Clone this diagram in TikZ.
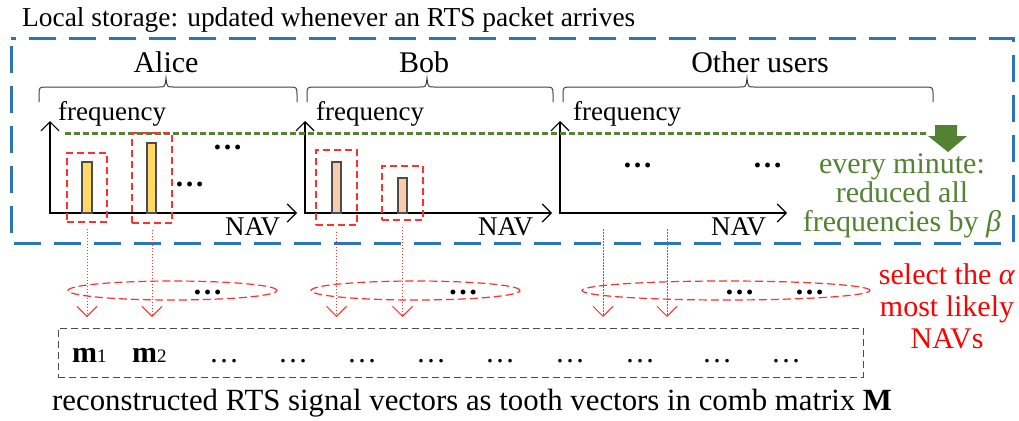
\documentclass[tikz,border=0pt]{standalone}
\usepackage{fontspec}
\setmainfont{Liberation Serif}
\usetikzlibrary{arrows.meta,shapes.geometric}
\definecolor{bluebox}{HTML}{2E75B6}
\definecolor{greenish}{HTML}{548235}
\definecolor{baryellow}{HTML}{FFD966}
\definecolor{barpeach}{HTML}{F8CBAD}
\definecolor{redline}{HTML}{FF3030}
\definecolor{redtext}{HTML}{FF0000}
\newcommand\mybrace[3]{%
  \draw[bracestyle] (#1,102) -- (#1,95) .. controls (#1,87) .. (#1+9,87)
    -- (#2-7,87) .. controls (#2-1,87) .. (#2,78)
    .. controls (#2+1,87) .. (#2+7,87) -- (#3-9,87)
    .. controls (#3,87) .. (#3,95) -- (#3,102);}
\begin{document}
\begin{tikzpicture}[x=1pt,y=-1pt,
  txt/.style={inner sep=0pt, font=\fontsize{27}{32}\selectfont},
  nametxt/.style={inner sep=0pt, font=\fontsize{30}{32}\selectfont},
  bigtxt/.style={inner sep=0pt, font=\fontsize{30}{32}\selectfont},
  bdots/.style={inner sep=0pt, font=\fontsize{30}{32}\selectfont\bfseries},
  axisline/.style={line width=1.2pt,
    {Straight Barb[length=9pt,width=18pt,line width=1.2pt]}-{Straight Barb[length=9pt,width=18pt,line width=1.2pt]}},
  bracestyle/.style={line width=1pt, draw=black!75},
  bar/.style={draw=black!70, line width=1.3pt},
  redbox/.style={draw=redline, line width=1.2pt, dash pattern=on 7pt off 4pt, inner sep=0pt},
  redell/.style={ellipse, draw=redline, line width=1.2pt, dash pattern=on 8pt off 4pt, inner sep=0pt},
  selarrow/.style={draw=redline, line width=1pt, dash pattern=on 1.5pt off 1.5pt,
    -{Straight Barb[length=10pt,width=20pt,line width=1pt]}, shorten <=6pt},
]
\useasboundingbox (0,0) rectangle (1019,420);

% title
\node[txt, anchor=base west, font=\fontsize{27.4}{32}\selectfont] (title) at (22,27) {Local storage: updated whenever an RTS packet arrives};

% blue storage box
\draw[bluebox, line width=3pt, dash pattern=on 27pt off 13pt, dash phase=33pt] (11,39) rectangle (1013,243);

% names and braces
\node[nametxt, anchor=base] (alice) at (166,72) {Alice};
\node[nametxt, anchor=base] (bob) at (424,72) {Bob};
\node[nametxt, anchor=base] (others) at (760,72) {Other users};
\mybrace{39}{166}{297}
\mybrace{307}{427}{553}
\mybrace{563}{747}{933}

% axes
\coordinate (ay1) at (50,121); \coordinate (ax1) at (297,213);
\coordinate (ay2) at (305,121); \coordinate (ax2) at (552,213);
\coordinate (ay3) at (560,121); \coordinate (ax3) at (787,213);
\draw[axisline] (ay1) |- (ax1);
\draw[axisline] (ay2) |- (ax2);
\draw[axisline] (ay3) |- (ax3);
\node[txt, anchor=base west] (f1) at (58,120) {frequency};
\node[txt, anchor=base west] (f2) at (316,120) {frequency};
\node[txt, anchor=base west] (f3) at (573,120) {frequency};
\node[txt, anchor=base west] (n1) at (225,235) {NAV};
\node[txt, anchor=base west] (n2) at (478,235) {NAV};
\node[txt, anchor=base west] (n3) at (711,235) {NAV};

% green threshold line and arrow
\draw[greenish, line width=3pt, dash pattern=on 6pt off 3pt] (65,133) -- (928,133);
\fill[greenish] (935,125) -- (957,125) -- (957,136) -- (967,136) -- (948,152) -- (928,136) -- (935,136) -- cycle;
\node[bigtxt, text=greenish, align=center, anchor=base, font=\fontsize{30}{29}\selectfont] (green) at (902,231)
  {every minute:\\reduced all\\frequencies by \textit{β}};

% bars
\draw[bar, fill=baryellow] (82,162) rectangle (92,213);
\draw[bar, fill=baryellow] (147,143) rectangle (156,213);
\draw[bar, fill=barpeach] (332,162) rectangle (341,213);
\draw[bar, fill=barpeach] (398,178) rectangle (407,213);

% red selection boxes
\node[redbox, minimum width=40pt, minimum height=69pt] (ab1) at (87,187.5) {};
\node[redbox, minimum width=40pt, minimum height=90pt] (ab2) at (152,178) {};
\node[redbox, minimum width=41pt, minimum height=75pt] (bb1) at (336.5,187.5) {};
\node[redbox, minimum width=41pt, minimum height=54pt] (bb2) at (402.5,193) {};

% dots in charts
\node[bdots, anchor=base] (d1) at (227.5,149) {…};
\node[bdots, anchor=base] (d2) at (189.5,186) {…};
\node[bdots, anchor=base] (d3) at (637.5,167) {…};
\node[bdots, anchor=base] (d4) at (767.5,167) {…};

% ellipses
\node[redell, minimum width=209pt, minimum height=19pt] (el1) at (172.5,290.5) {};
\node[redell, minimum width=209pt, minimum height=19pt] (el2) at (415.5,290.5) {};
\node[redell, minimum width=288pt, minimum height=19pt] (el3) at (726,290.5) {};
\node[bdots, anchor=base] (d5) at (207.5,294) {…};
\node[bdots, anchor=base] (d6) at (463,294) {…};
\node[bdots, anchor=base] (d7) at (739.5,294) {…};
\node[bdots, anchor=base] (d8) at (809.5,294) {…};

% selection arrows
\coordinate (bot) at (0,317);
\coordinate (o1) at (603,223);
\coordinate (o2) at (667,223);
\draw[selarrow] (ab1.south) -- (ab1.south |- bot);
\draw[selarrow] (ab2.south) -- (ab2.south |- bot);
\draw[selarrow] (bb1.south) -- (bb1.south |- bot);
\draw[selarrow] (bb2.south) -- (bb2.south |- bot);
\draw[selarrow] (o1) -- (o1 |- bot);
\draw[selarrow] (o2) -- (o2 |- bot);

\node[bigtxt, text=redtext, align=center, anchor=base, font=\fontsize{30}{32}\selectfont] (sel) at (947,348)
  {select the \textit{α}\\most likely\\NAVs};

% comb matrix box
\node[draw=black!70, line width=1pt, dash pattern=on 7pt off 4pt, minimum width=805pt, minimum height=49pt, inner sep=0pt] (mbox) at (460.5,352.5) {};
\node[bigtxt, anchor=base west] (m1) at (72,362) {\bfseries m{\mdseries\fontsize{19}{19}\selectfont 1}};
\node[bigtxt, anchor=base west] (m2) at (132,362) {\bfseries m{\mdseries\fontsize{19}{19}\selectfont 2}};
\foreach \cx [count=\i] in {224,293,362,431,500,570,640,717,786}
  \node[bigtxt, anchor=base] (e\i) at (\cx,362) {…};

\node[bigtxt, anchor=base west, font=\fontsize{30.8}{32}\selectfont] (caption) at (52,410) {reconstructed RTS signal vectors as tooth vectors in comb matrix \textbf{M}};
\end{tikzpicture}
\end{document}
